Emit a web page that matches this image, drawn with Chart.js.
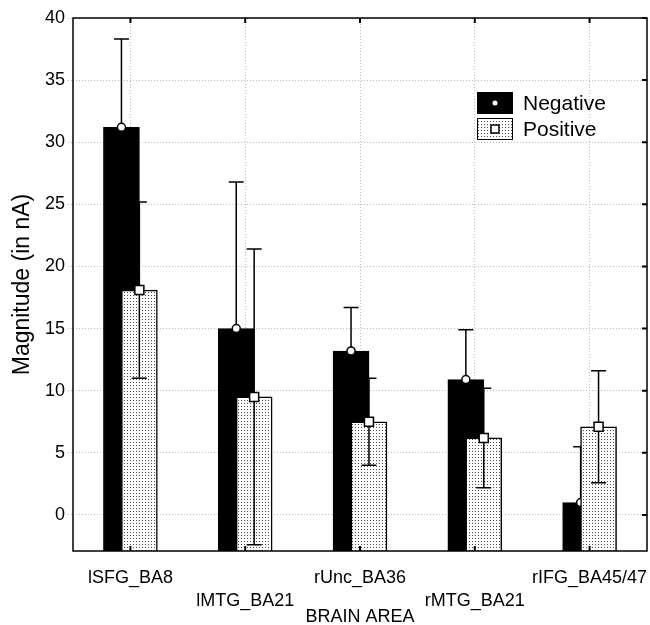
<!DOCTYPE html>
<html>
<head>
<meta charset="utf-8">
<script src="https://cdn.jsdelivr.net/npm/chart.js@4/dist/chart.umd.min.js"></script>
<style>
  html, body { margin: 0; padding: 0; background: #fff; }
  canvas { display: block; }
</style>
</head>
<body>
<canvas id="barChart" width="650" height="625"></canvas>
<script>
var areas = ['lSFG_BA8', 'lMTG_BA21', 'rUnc_BA36', 'rMTG_BA21', 'rIFG_BA45/47'];
var seriesNames = ['Negative', 'Positive'];
var negative = [31.2, 15.0, 13.2, 10.9, 1.0];
var negativeErr = [7.1, 11.8, 3.5, 4.0, 4.5];
var positive = [18.1, 9.5, 7.5, 6.2, 7.1];
var positiveErr = [7.1, 11.9, 3.5, 4.0, 4.5];
var yTicks = [0, 5, 10, 15, 20, 25, 30, 35, 40];
var yMin = -2.9, yMax = 40;

var FONT = "'Liberation Sans', Arial, sans-serif";
var shift = 0.078;   // bars of a pair overlap, each moved off the category centre

function dotPattern() {
    var c = document.createElement('canvas');
    c.width = 3; c.height = 3;
    var g = c.getContext('2d');
    g.fillStyle = '#fff';
    g.fillRect(0, 0, 3, 3);
    g.fillStyle = '#4a4a4a';
    g.fillRect(1, 1, 1, 1);
    return g.createPattern(c, 'repeat');
}
var dots = dotPattern();

function points(vals, dx) {
    return vals.map(function (v, i) { return {x: i + dx, y: v}; });
}

var errors = [negativeErr, positiveErr];
var values = [negative, positive];

function drawMarker(ctx, kind, x, y) {
    ctx.fillStyle = '#fff';
    ctx.strokeStyle = '#000';
    ctx.lineWidth = 1.5;
    ctx.beginPath();
    if (kind === 0) {
        ctx.arc(x, y, 4, 0, Math.PI * 2);
    } else {
        ctx.rect(x - 4.5, y - 4.5, 9, 9);
    }
    ctx.fill();
    ctx.stroke();
}

// error whiskers + mean markers, drawn right after each dataset's bars
var whiskers = {
    id: 'whiskers',
    afterDatasetDraw: function (chart, args) {
        var ctx = chart.ctx, ya = chart.scales.y, area = chart.chartArea;
        var k = args.index;
        ctx.save();
        ctx.beginPath();
        ctx.rect(area.left, area.top, area.right - area.left, area.bottom - area.top);
        ctx.clip();
        args.meta.data.forEach(function (bar, j) {
            var v = values[k][j], e = errors[k][j];
            var yHi = ya.getPixelForValue(v + e), yLo = ya.getPixelForValue(v - e);
            ctx.strokeStyle = '#000';
            ctx.lineWidth = 1.5;
            ctx.beginPath();
            ctx.moveTo(bar.x, yHi); ctx.lineTo(bar.x, yLo);
            ctx.moveTo(bar.x - 7.5, yHi); ctx.lineTo(bar.x + 7.5, yHi);
            ctx.moveTo(bar.x - 7.5, yLo); ctx.lineTo(bar.x + 7.5, yLo);
            ctx.stroke();
        });
        args.meta.data.forEach(function (bar, j) {
            drawMarker(ctx, k, bar.x, ya.getPixelForValue(values[k][j]));
        });
        ctx.restore();
    }
};

// box round the plot, small inner ticks and the legend
var frame = {
    id: 'frame',
    afterDraw: function (chart) {
        var ctx = chart.ctx, a = chart.chartArea;
        var xa = chart.scales.x, ya = chart.scales.y;
        ctx.save();
        ctx.strokeStyle = '#000';
        ctx.lineWidth = 1.5;
        ctx.strokeRect(a.left, a.top, a.right - a.left, a.bottom - a.top);
        ctx.lineWidth = 2;
        ctx.beginPath();
        areas.forEach(function (n, i) {
            var x = xa.getPixelForValue(i);
            ctx.moveTo(x, a.top); ctx.lineTo(x, a.top + 5);
            ctx.moveTo(x, a.bottom); ctx.lineTo(x, a.bottom - 5);
        });
        yTicks.forEach(function (v) {
            var y = ya.getPixelForValue(v);
            ctx.moveTo(a.right, y); ctx.lineTo(a.right - 5, y);
        });
        ctx.stroke();

        // legend
        var lx = 477, ly = 92, bw = 36, bh = 22;
        ctx.lineWidth = 1;
        ctx.fillStyle = '#000';
        ctx.fillRect(lx, ly, bw, bh);
        ctx.fillStyle = '#fff';
        ctx.beginPath();
        ctx.arc(lx + bw / 2, ly + bh / 2, 2.5, 0, Math.PI * 2);
        ctx.fill();
        ctx.fillStyle = dots;
        ctx.fillRect(lx, ly + 26, bw, bh);
        ctx.strokeStyle = '#000';
        ctx.strokeRect(lx + 0.5, ly + 26.5, bw - 1, bh - 1);
        ctx.fillStyle = '#fff';
        ctx.lineWidth = 1.5;
        ctx.fillRect(lx + bw / 2 - 4, ly + 26 + bh / 2 - 4, 8, 8);
        ctx.strokeRect(lx + bw / 2 - 4, ly + 26 + bh / 2 - 4, 8, 8);
        ctx.fillStyle = '#000';
        ctx.font = '21px ' + FONT;
        ctx.textBaseline = 'middle';
        ctx.fillText(seriesNames[0], lx + 46, ly + bh / 2 + 1);
        ctx.fillText(seriesNames[1], lx + 46, ly + 26 + bh / 2 + 1);
        ctx.restore();
    }
};

var barData = {
    datasets: [
        {
            label: seriesNames[0],
            data: points(negative, -shift),
            backgroundColor: '#000',
            borderColor: '#000',
            borderWidth: 1,
            order: 1
        },
        {
            label: seriesNames[1],
            data: points(positive, shift),
            backgroundColor: dots,
            borderColor: '#000',
            borderWidth: 1.5,
            order: 0
        }
    ]
};

var barOptions = {
    responsive: false,
    animation: false,
    layout: {padding: {top: 18, right: 3, left: 0, bottom: 0}},
    datasets: {bar: {grouped: false, barThickness: 36, base: yMin}},
    plugins: {legend: {display: false}, tooltip: {enabled: false}},
    scales: {
        x: {
            type: 'linear',
            min: -0.5,
            max: 4.5,
            offset: false,
            afterBuildTicks: function (s) {
                s.ticks = areas.map(function (n, i) { return {value: i}; });
            },
            afterFit: function (s) {
                s.height = 74;
                s.paddingLeft = 0;
                s.paddingRight = 0;
            },
            border: {display: false, dash: [1, 2]},
            grid: {color: '#bbb', drawTicks: false, offset: false},
            ticks: {
                color: '#000',
                padding: 15,
                maxRotation: 0,
                autoSkip: false,
                font: {family: FONT, size: 18, lineHeight: 1.3},
                callback: function (v) {
                    var i = Math.round(v);
                    return i % 2 ? ['', areas[i]] : areas[i];
                }
            },
            title: {
                display: true,
                text: 'BRAIN AREA',
                color: '#000',
                padding: {top: 0, bottom: 0},
                font: {family: FONT, size: 18, lineHeight: 0.9}
            }
        },
        y: {
            min: yMin,
            max: yMax,
            afterBuildTicks: function (s) {
                s.ticks = yTicks.map(function (v) { return {value: v}; });
            },
            afterFit: function (s) { s.width = 73; },
            border: {display: false, dash: [1, 2]},
            grid: {color: '#bbb', tickLength: 5, tickColor: '#bbb', tickBorderDash: [1, 2]},
            ticks: {
                color: '#000',
                padding: 3,
                font: {family: FONT, size: 18}
            },
            title: {
                display: true,
                text: 'Magnitude (in nA)',
                color: '#000',
                padding: {top: 11, bottom: 0},
                font: {family: FONT, size: 23, lineHeight: 1}
            }
        }
    }
};

var ctx2 = document.getElementById('barChart').getContext('2d');
new Chart(ctx2, {type: 'bar', data: barData, options: barOptions, plugins: [whiskers, frame]});
</script>
</body>
</html>
